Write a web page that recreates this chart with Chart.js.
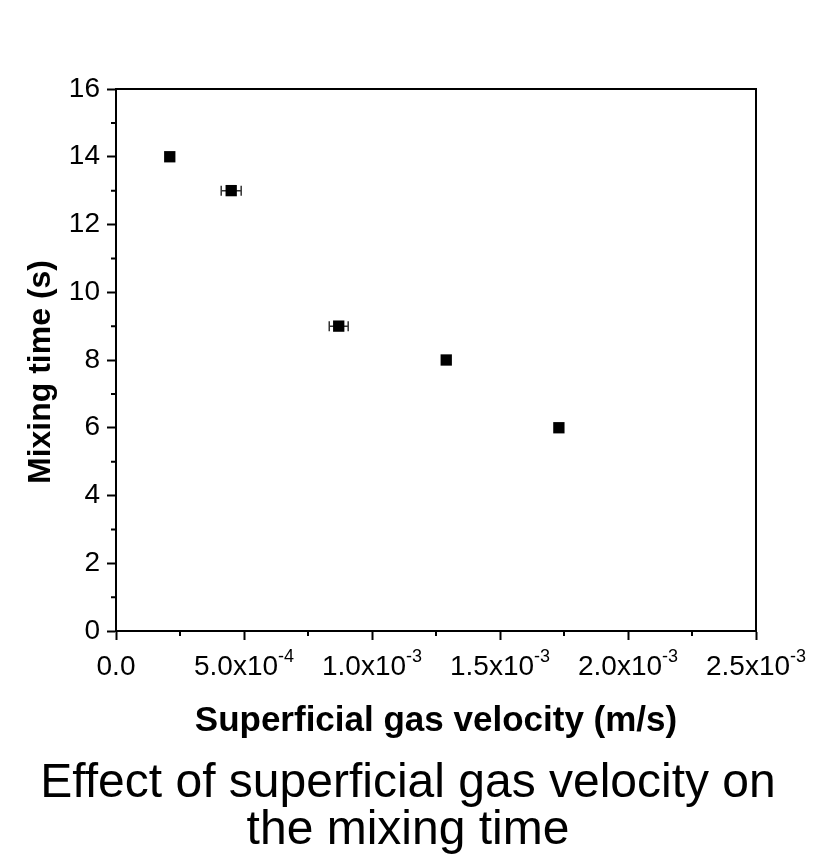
<!DOCTYPE html>
<html>
<head>
<meta charset="utf-8">
<script src="https://cdn.jsdelivr.net/npm/chart.js@4.4.1/dist/chart.umd.min.js"></script>
<style>
  html, body { margin: 0; padding: 0; background: #fff; }
  #wrap { width: 816px; height: 864px; position: relative; }
  #caption {
    position: absolute; left: 0; top: 757px; width: 816px;
    text-align: center; color: #000;
    font: 48px/47px 'Liberation Sans', Arial, Helvetica, sans-serif;
  }
</style>
</head>
<body>
<div id="wrap">
  <canvas id="mixChart" width="816" height="864"></canvas>
  <div id="caption">Effect of superficial gas velocity on<br>the mixing time</div>
</div>
<script>
// data
var velocity = [2.1e-4, 4.5e-4, 8.7e-4, 1.29e-3, 1.73e-3];
var mixTime = [14, 13, 9, 8, 6];
var velocityErr = [0, 3.9e-5, 3.7e-5, 0, 0];

// x tick labels: mantissa part + superscript exponent
var xTickValues = [0, 5e-4, 1e-3, 1.5e-3, 2e-3, 2.5e-3];
var xTickBase = ['0.0', '5.0x10', '1.0x10', '1.5x10', '2.0x10', '2.5x10'];
var xTickExp = ['', '-4', '-3', '-3', '-3', '-3'];
var yMinorTicks = [1, 3, 5, 7, 9, 11, 13, 15];
var yTitle = 'Mixing time (s)';

var FONT = 'Liberation Sans, Arial, Helvetica, sans-serif';
Chart.defaults.font.family = FONT;
Chart.defaults.color = '#000';

// error bars, box frame, minor ticks, y title and superscript tick labels
var extras = {
    id: 'extras',
    beforeDatasetsDraw: function(chart) {
        var ctx = chart.ctx, x = chart.scales.x, y = chart.scales.y;
        ctx.save();
        ctx.strokeStyle = '#333';
        ctx.lineWidth = 1.5;
        for (var i = 0; i < velocity.length; i++) {
            if (!velocityErr[i]) continue;
            var x0 = x.getPixelForValue(velocity[i] - velocityErr[i]);
            var x1 = x.getPixelForValue(velocity[i] + velocityErr[i]);
            var py = y.getPixelForValue(mixTime[i]);
            ctx.beginPath();
            ctx.moveTo(x0, py); ctx.lineTo(x1, py);
            ctx.moveTo(x0, py - 5); ctx.lineTo(x0, py + 5);
            ctx.moveTo(x1, py - 5); ctx.lineTo(x1, py + 5);
            ctx.stroke();
        }
        ctx.restore();
    },
    afterDraw: function(chart) {
        var ctx = chart.ctx, a = chart.chartArea, x = chart.scales.x, y = chart.scales.y;
        ctx.save();
        ctx.strokeStyle = '#000';
        ctx.lineWidth = 2;
        ctx.beginPath();
        ctx.moveTo(a.left - 1, a.top);
        ctx.lineTo(a.right, a.top);
        ctx.lineTo(a.right, a.bottom + 1);
        ctx.stroke();

        ctx.beginPath();
        yMinorTicks.forEach(function(v) {
            var py = y.getPixelForValue(v);
            ctx.moveTo(a.left - 5, py); ctx.lineTo(a.left, py);
        });
        for (var i = 0; i < xTickValues.length - 1; i++) {
            var px = x.getPixelForValue((xTickValues[i] + xTickValues[i + 1]) / 2);
            ctx.moveTo(px, a.bottom); ctx.lineTo(px, a.bottom + 5);
        }
        ctx.stroke();

        ctx.fillStyle = '#000';
        ctx.textBaseline = 'alphabetic';
        ctx.textAlign = 'left';
        var base = a.bottom + 44;
        xTickValues.forEach(function(v, i) {
            ctx.font = '28px ' + FONT;
            var w1 = ctx.measureText(xTickBase[i]).width;
            ctx.font = '18px ' + FONT;
            var w2 = xTickExp[i] ? ctx.measureText(xTickExp[i]).width : 0;
            var left = x.getPixelForValue(v) - (w1 + w2) / 2;
            ctx.font = '28px ' + FONT;
            ctx.fillText(xTickBase[i], left, base);
            if (xTickExp[i]) {
                ctx.font = '18px ' + FONT;
                ctx.fillText(xTickExp[i], left + w1, base - 13);
            }
        });

        // y axis title, sits a little below the plot centre in the original
        ctx.translate(41, (a.top + a.bottom) / 2 + 12);
        ctx.rotate(-Math.PI / 2);
        ctx.textAlign = 'center';
        ctx.textBaseline = 'middle';
        ctx.font = 'bold 32px ' + FONT;
        ctx.fillText(yTitle, 0, 0);
        ctx.restore();
    }
};

new Chart(document.getElementById('mixChart').getContext('2d'), {
    type: 'scatter',
    data: {
        datasets: [{
            data: velocity.map(function(v, i) { return {x: v, y: mixTime[i]}; }),
            pointStyle: 'rect',
            pointRadius: 8,
            pointHoverRadius: 8,
            pointBackgroundColor: '#000',
            pointBorderWidth: 0
        }]
    },
    options: {
        responsive: false,
        animation: false,
        devicePixelRatio: 1,
        layout: { padding: { top: 89, right: 60, left: 0, bottom: 127 } },
        plugins: {
            legend: { display: false },
            tooltip: { enabled: false }
        },
        scales: {
            x: {
                type: 'linear',
                min: 0,
                max: 2.5e-3,
                afterBuildTicks: function(s) { s.ticks = xTickValues.map(function(v) { return {value: v}; }); },
                afterFit: function(s) { s.height = 106; },
                ticks: { callback: function() { return ''; } },
                grid: { drawOnChartArea: false, tickLength: 9, tickWidth: 2, color: '#000' },
                border: { display: true, color: '#000', width: 2 },
                title: {
                    display: true,
                    text: 'Superficial gas velocity (m/s)',
                    font: { size: 35, weight: 'bold', lineHeight: 0.9 },
                    padding: { top: 0, bottom: 0 }
                }
            },
            y: {
                min: 0,
                max: 16,
                afterFit: function(s) { s.width = 116; },
                ticks: { stepSize: 2, padding: 7, font: { size: 28 } },
                grid: { drawOnChartArea: false, tickLength: 9, tickWidth: 2, color: '#000' },
                border: { display: true, color: '#000', width: 2 }
            }
        }
    },
    plugins: [extras]
});
</script>
</body>
</html>
